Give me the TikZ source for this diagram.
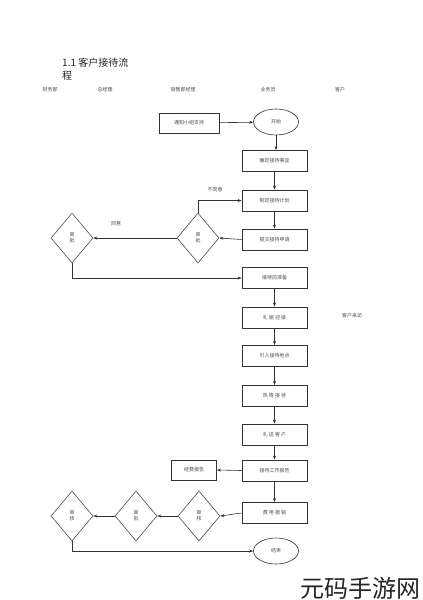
\documentclass[tikz,border=0pt]{standalone}
\usepackage{fontspec}
\setmainfont{Noto Sans CJK SC}
\usetikzlibrary{shapes.geometric,arrows.meta}
\begin{document}
\begin{tikzpicture}[x=1pt,y=-1pt,
  tiny/.style={font=\fontsize{5}{6}\selectfont, text=black!70},
  box/.style={draw=black!80, line width=0.8pt, minimum width=65pt, minimum height=21pt, inner sep=1pt, tiny},
  sbox/.style={box, minimum width=45pt, minimum height=20pt},
  oval/.style={ellipse, draw=black!80, line width=0.6pt, minimum width=45pt, minimum height=26pt, inner sep=0pt, tiny},
  dia/.style={diamond, draw=black!70, line width=0.6pt, minimum width=42pt, minimum height=50pt, inner sep=0pt, aspect=0.84, tiny, align=center},
  arr/.style={draw=black!80, line width=0.6pt, -{Stealth[length=4pt,width=3pt]}},
  lbl/.style={tiny}
]
\useasboundingbox (0,0) rectangle (423,600);
\fill[white] (0,0) rectangle (423,600);

% title and headers
\node[anchor=north west, font=\fontsize{10}{13}\selectfont, align=left, inner sep=0pt, text=black!85] (title) at (62,58) {1.1 客户接待流\\程};
\node[lbl] (h1) at (50,90) {财务部};
\node[lbl] (h2) at (105,90) {总经理};
\node[lbl] (h3) at (183,90) {销售部经理};
\node[lbl] (h4) at (268,90) {业务员};
\node[lbl] (h5) at (340,90) {客户};

% main column
\node[sbox, minimum width=60pt] (s0) at (189,123) {通知小组支持};
\node[oval] (start) at (276,122) {开始};
\node[box] (b1) at (274.5,161) {确定接待事宜};
\node[box] (b2) at (274.5,200.5) {制定接待计划};
\node[box] (b3) at (274.5,239.5) {提交接待申请};
\node[box] (b4) at (274.5,278) {接待前准备};
\node[box] (b5) at (274.5,317.5) {礼\ 貌\ 迎\ 接};
\node[box] (b6) at (274.5,356) {引入接待地点};
\node[box] (b7) at (274.5,396) {热\ 情\ 接\ 待};
\node[box] (b8) at (274.5,434.5) {礼\ 送\ 客\ 户};
\node[box] (b9) at (274.5,470.5) {接待工作报告};
\node[box] (b10) at (274.5,513) {费\ 用\ 报\ 销};
\node[oval] (end) at (276,551) {结束};
\node[sbox] (rep) at (194,470) {经费报告};

% diamonds
\node[dia] (d1) at (198,238) {审\\批};
\node[dia] (d2) at (72,238) {审\\批};
\node[dia] (d3) at (199,516) {审\\核};
\node[dia] (d4) at (136,516) {审\\批};
\node[dia] (d5) at (72,516) {审\\核};

% labels
\node[lbl] (l1) at (215,190) {不同意};
\node[lbl] (l2) at (116,224) {同意};
\node[lbl] (l3) at (352,316) {客户来访};

% connectors
\draw[arr] (s0) -- (start);
\draw[arr] (start) -- (b1.north -| start);
\draw[arr] (b1) -- (b2);
\draw[arr] (b2) -- (b3);
\draw[arr] (b3.west) -- (d1.east);
\draw[arr] (d1.north) |- (b2.west);
\draw[arr] (d1.west) -- (d2.east);
\draw[arr] (d2.south) |- (b4.west);
\draw[arr] (b4) -- (b5);
\draw[arr] (b5) -- (b6);
\draw[arr] (b6) -- (b7);
\draw[arr] (b7) -- (b8);
\draw[arr] (b8) -- (b9);
\draw[arr] (b9.west) -- (rep.east);
\draw[arr] (b9) -- (b10);
\draw[arr] (b10.west) -- (d3.east);
\draw[arr] (d3.west) -- (d4.east);
\draw[arr] (d4.west) -- (d5.east);
\draw[arr] (d5.south) |- (end.west);

% watermark
\node[anchor=west, font=\fontsize{24}{26}\selectfont, text=black!85, inner sep=0pt] (wm) at (300,588) {元码手游网};
\end{tikzpicture}
\end{document}
